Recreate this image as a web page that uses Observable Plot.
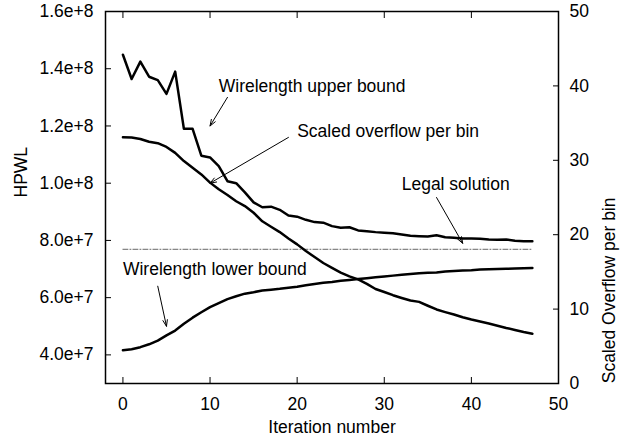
<!DOCTYPE html>
<html><head><meta charset="utf-8">
<script src="https://cdn.jsdelivr.net/npm/d3@7"></script>
<script src="https://cdn.jsdelivr.net/npm/@observablehq/plot@0.6"></script>
<style>body{margin:0;background:#fff}</style>
</head><body><div id="chart"></div>
<script>
const iterations = [0,1,2,3,4,5,6,7,8,9,10,11,12,13,14,15,16,17,18,19,20,21,22,23,24,25,26,27,28,29,30,31,32,33,34,35,36,37,38,39,40,41,42,43,44,45,46,47];
const upperBound = [1.449e8,1.364e8,1.425e8,1.372e8,1.36e8,1.312e8,1.39e8,1.19e8,1.19e8,1.096e8,1.09e8,1.06e8,1.007e8,1.0e8,0.968e8,0.933e8,0.916e8,0.918e8,0.907e8,0.887e8,0.883e8,0.872e8,0.864e8,0.862e8,0.85e8,0.844e8,0.846e8,0.835e8,0.832e8,0.829e8,0.827e8,0.825e8,0.821e8,0.816e8,0.815e8,0.814e8,0.818e8,0.811e8,0.809e8,0.807e8,0.807e8,0.806e8,0.803e8,0.802e8,0.803e8,0.799e8,0.797e8,0.797e8];
const lowerBound = [4.16e7,4.2e7,4.27e7,4.37e7,4.5e7,4.68e7,4.85e7,5.09e7,5.3e7,5.49e7,5.67e7,5.81e7,5.95e7,6.05e7,6.14e7,6.19e7,6.25e7,6.28e7,6.31e7,6.35e7,6.38e7,6.43e7,6.48e7,6.52e7,6.55e7,6.59e7,6.62e7,6.65e7,6.68e7,6.71e7,6.74e7,6.77e7,6.8e7,6.83e7,6.85e7,6.87e7,6.88e7,6.91e7,6.93e7,6.95e7,6.96e7,6.98e7,6.99e7,7.0e7,7.01e7,7.02e7,7.03e7,7.04e7];
const overflow = [33.1,33.05,32.87,32.5,32.3,31.8,31.0,29.9,29.0,28.1,27.0,26.1,25.33,24.5,23.85,22.95,21.8,21.07,20.35,19.5,18.7,17.8,17.0,16.2,15.55,14.9,14.4,14.0,13.4,12.7,12.3,11.87,11.5,11.15,10.97,10.45,9.95,9.6,9.27,8.9,8.6,8.33,8.06,7.77,7.47,7.2,6.93,6.7];
const legalX = [0, 47];
const legalHPWL = 7.69e7;

const xTicks = [0,10,20,30,40,50];
const leftTicks = [4e7,6e7,8e7,1e8,1.2e8,1.4e8,1.6e8];
const leftTickLabels = ["4.0e+7","6.0e+7","8.0e+7","1.0e+8","1.2e+8","1.4e+8","1.6e+8"];
const rightTicks = [0,10,20,30,40,50];

const xDomain = [-2, 50];
const leftDomain = [3e7, 1.6e8];
const rightDomain = [0, 50];

const labels = [
  {text: "Wirelength upper bound", x: 11, y: 1.34e8},
  {text: "Scaled overflow per bin", x: 20, y: 1.18e8},
  {text: "Legal solution", x: 32, y: 0.995e8},
  {text: "Wirelength lower bound", x: 0, y: 7.0e7}
];
const arrows = [
  {x1: 12, y1: 1.30e8, x2: 10, y2: 1.20e8},
  {x1: 19, y1: 1.16e8, x2: 10, y2: 1.0e8},
  {x1: 36, y1: 0.95e8, x2: 39, y2: 0.79e8},
  {x1: 4, y1: 6.4e7, x2: 5, y2: 5.0e7}
];

// map right-axis values onto the left (HPWL) scale
const r2l = d3.scaleLinear().domain(rightDomain).range(leftDomain);
const l2r = r2l.invert;

const upperData = iterations.map((x, i) => ({x, y: upperBound[i]}));
const lowerData = iterations.map((x, i) => ({x, y: lowerBound[i]}));
const overflowData = iterations.map((x, i) => ({x, y: r2l(overflow[i])}));
const legalData = legalX.map(x => ({x, y: legalHPWL}));

const chart = Plot.plot({
  width: 630,
  height: 438,
  marginLeft: 105,
  marginRight: 72,
  marginTop: 11,
  marginBottom: 55,
  style: {fontFamily: "'Liberation Sans', Arial, Helvetica, sans-serif", fontSize: "17.5px", background: "#fff", color: "#000"},
  x: {domain: xDomain},
  y: {domain: leftDomain},
  marks: [
    Plot.axisX(xTicks, {anchor: "bottom", tickSize: -6, tickPadding: 20, label: null, tickFormat: d => String(d)}),
    Plot.axisX(xTicks.slice(0, 5), {anchor: "top", tickSize: -6, label: null, tickFormat: () => ""}),
    Plot.axisY(leftTicks, {anchor: "left", tickSize: -6, tickPadding: 18, label: null, tickFormat: (d, i) => leftTickLabels[leftTicks.indexOf(d)]}),
    Plot.axisY(rightTicks.map(r2l), {anchor: "right", tickSize: -6, tickPadding: 17, label: null, tickFormat: d => String(Math.round(l2r(d)))}),
    Plot.line(legalData, {x: "x", y: "y", stroke: "#666", strokeWidth: 1, strokeDasharray: "5,2,1,2"}),
    Plot.line(upperData, {x: "x", y: "y", stroke: "black", strokeWidth: 2.5}),
    Plot.line(lowerData, {x: "x", y: "y", stroke: "black", strokeWidth: 2.5}),
    Plot.line(overflowData, {x: "x", y: "y", stroke: "black", strokeWidth: 2.5}),
    Plot.arrow(arrows, {x1: "x1", y1: "y1", x2: "x2", y2: "y2", stroke: "black", strokeWidth: 1, headLength: 10, headAngle: 40}),
    Plot.text(labels, {x: "x", y: "y", text: "text", textAnchor: "start", lineAnchor: "middle", fill: "black"}),
    Plot.text(["HPWL"], {frameAnchor: "left", dx: -84, rotate: -90, fill: "black"}),
    Plot.text(["Scaled Overflow per bin"], {frameAnchor: "right", dx: 51, rotate: -90, fill: "black"}),
    Plot.text(["Iteration number"], {frameAnchor: "bottom", dy: 49, fill: "black"}),
    Plot.frame({stroke: "black", strokeWidth: 1.5})
  ]
});
document.getElementById("chart").appendChild(chart);
</script></body></html>
